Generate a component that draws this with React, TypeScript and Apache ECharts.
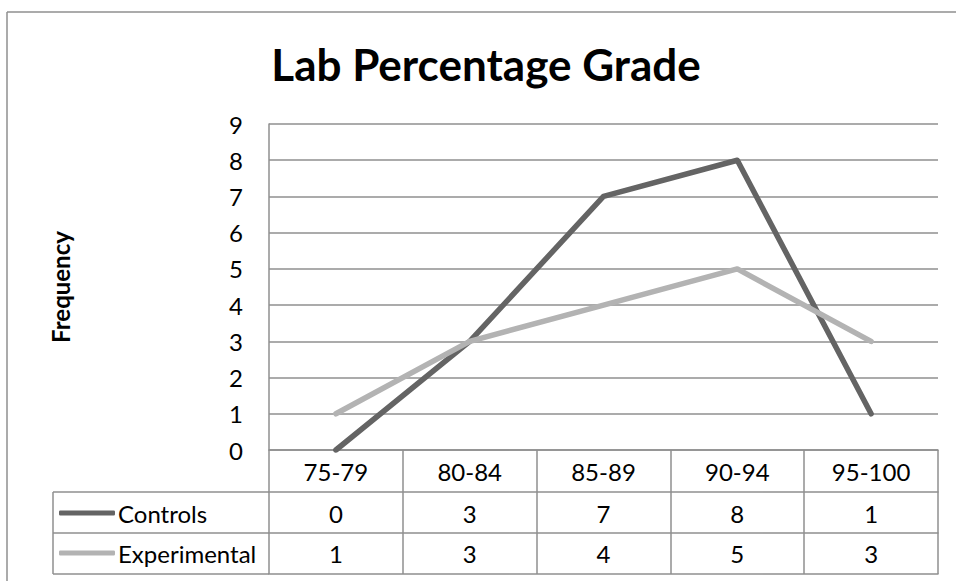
import React, { useEffect, useRef } from "react";
import * as echarts from "echarts";

const categories = ["75-79", "80-84", "85-89", "90-94", "95-100"];
const controls = [0, 3, 7, 8, 1];
const experimental = [1, 3, 4, 5, 3];
const seriesNames = ["Controls", "Experimental"];
const yMin = 0;
const yMax = 9;
const yInterval = 1;

const FONT = "Lato, 'Open Sans', sans-serif";
const GRID = "#8f8f8f";
const FS = 24;

export default function App() {
  const ref = useRef<HTMLDivElement>(null);
  useEffect(() => {
    document.body.style.margin = "0";
    const chart = echarts.init(ref.current!, null, { renderer: "svg" });
    const baseAxis = {
      type: "category",
      data: categories,
      gridIndex: 0,
      position: "bottom",
      boundaryGap: true,
      axisLine: { show: true, lineStyle: { color: GRID, width: 1.5 } },
      axisTick: { show: true, interval: 0, alignWithLabel: false, inside: false, lineStyle: { color: GRID, width: 1.5 } },
      axisLabel: { show: true, interval: 0, color: "#000", fontSize: FS, fontFamily: FONT, verticalAlign: "middle" },
      splitLine: { show: false },
    };
    const line = (x1: number, y1: number, x2: number, y2: number) => ({
      type: "line",
      shape: { x1, y1, x2, y2 },
      style: { stroke: GRID, lineWidth: 1.5 },
    });
    chart.setOption({
      animation: false,
      title: {
        text: "Lab Percentage Grade",
        left: 481,
        top: 37,
        textAlign: "center",
        textStyle: { fontSize: 44, fontWeight: "bold", color: "#000", fontFamily: FONT },
      },
      grid: { left: 269, right: 18, top: 124, bottom: 131, containLabel: false },
      legend: {
        orient: "vertical",
        left: 54,
        top: 496,
        itemWidth: 56,
        itemHeight: 5,
        itemGap: 16,
        icon: "roundRect",
        data: seriesNames,
        textStyle: { fontSize: FS, color: "#000", fontFamily: FONT, padding: [0, 0, 0, -2] },
        selectedMode: false,
      },
      xAxis: [
        { ...baseAxis, offset: 0, axisTick: { ...baseAxis.axisTick, length: 42 }, axisLabel: { ...baseAxis.axisLabel, margin: 21 } },
        {
          ...baseAxis,
          offset: 42,
          axisTick: { ...baseAxis.axisTick, length: 41 },
          axisLabel: { ...baseAxis.axisLabel, margin: 21, formatter: (_v: string, i: number) => String(controls[i]) },
        },
        {
          ...baseAxis,
          offset: 83,
          axisTick: { ...baseAxis.axisTick, length: 41 },
          axisLabel: { ...baseAxis.axisLabel, margin: 20, formatter: (_v: string, i: number) => String(experimental[i]) },
        },
        { ...baseAxis, offset: 124, axisTick: { show: false }, axisLabel: { show: false } },
      ],
      yAxis: {
        type: "value",
        min: yMin,
        max: yMax,
        interval: yInterval,
        name: "Frequency",
        nameLocation: "middle",
        nameGap: 197,
        nameRotate: 90,
        nameTextStyle: { fontSize: 24, fontWeight: "bold", color: "#000", fontFamily: FONT },
        axisLine: { show: true, lineStyle: { color: GRID, width: 1.5 } },
        axisTick: { show: false },
        axisLabel: { color: "#000", fontSize: FS, fontFamily: FONT, margin: 26 },
        splitLine: { show: true, lineStyle: { color: GRID, width: 1.5 } },
      },
      series: [
        {
          name: seriesNames[0],
          type: "line",
          data: controls,
          symbol: "none",
          color: "#646464",
          lineStyle: { width: 5.5, color: "#646464", cap: "round", join: "round" },
          z: 2,
        },
        {
          name: seriesNames[1],
          type: "line",
          data: experimental,
          symbol: "none",
          color: "#b3b3b3",
          lineStyle: { width: 5.5, color: "#b3b3b3", cap: "round", join: "round" },
          z: 3,
        },
      ],
      graphic: [
        line(7, 12, 956, 12),
        line(7, 12, 7, 581),
        line(53, 492, 269, 492),
        line(53, 533, 269, 533),
        line(53, 574, 269, 574),
        line(53, 492, 53, 574),
      ],
    });
    return () => chart.dispose();
  }, []);
  return <div ref={ref} style={{ width: 956, height: 581 }} />;
}
